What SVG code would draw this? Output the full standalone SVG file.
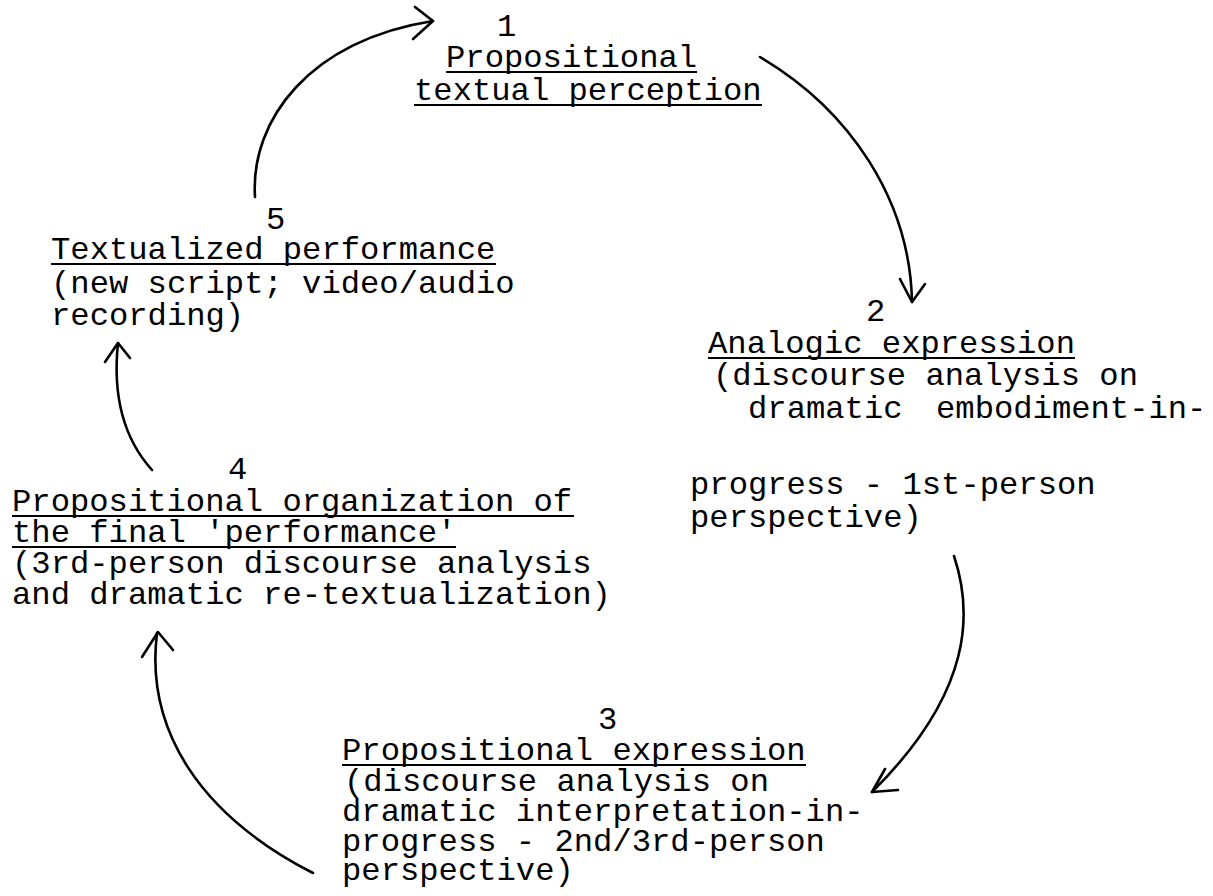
<svg xmlns="http://www.w3.org/2000/svg" width="1213" height="896" viewBox="0 0 1213 896">
  <style>
    text { font-family: "Liberation Mono", "Courier New", monospace; font-size: 32.2px; fill: #000; }
    .ul { stroke: #000; stroke-width: 2.2; }
    .arc { fill: none; stroke: #000; stroke-width: 2.6; stroke-linecap: round; stroke-linejoin: round; }
  </style>
  <rect width="1213" height="896" fill="#fff"/>

  <!-- connectors: hand-drawn arcs with open arrowheads -->
  <g id="connectors">
    <!-- 5 to 1 -->
    <path class="arc" d="M255,197 C250,120 310,40 433,21"/>
    <path class="arc" d="M415,7 L433,21 L413,39"/>
    <!-- 1 to 2 -->
    <path class="arc" d="M760,57 C850,110 910,200 912,302"/>
    <path class="arc" d="M900,279 L912,302 L925,284"/>
    <!-- 2 to 3 -->
    <path class="arc" d="M954,556 C972,610 975,690 872,792"/>
    <path class="arc" d="M885,769 L872,792 L898,790"/>
    <!-- 3 to 4 -->
    <path class="arc" d="M313,873 C200,815 145,730 157,633"/>
    <path class="arc" d="M142,657 L158,632 L173,650"/>
    <!-- 4 to 5 -->
    <path class="arc" d="M152,470 C125,440 112,400 118,343"/>
    <path class="arc" d="M105,362 L118,343 L130,358"/>
  </g>

  <g id="node1">
    <text x="497" y="36">1</text>
    <text x="446" y="67">Propositional</text>
    <line class="ul" x1="446" y1="72" x2="697" y2="72"/>
    <text x="414" y="100">textual perception</text>
    <line class="ul" x1="414" y1="105" x2="762" y2="105"/>
  </g>

  <g id="node2">
    <text x="866" y="321">2</text>
    <text x="708" y="353">Analogic expression</text>
    <line class="ul" x1="708" y1="358" x2="1075" y2="358"/>
    <text x="713" y="385">(discourse analysis on</text>
    <text y="418"><tspan x="748">dramatic</tspan><tspan x="936">embodiment-in-</tspan></text>
    <text x="690" y="494">progress - 1st-person</text>
    <text x="690" y="527">perspective)</text>
  </g>

  <g id="node3">
    <text x="598" y="729">3</text>
    <text x="342" y="760">Propositional expression</text>
    <line class="ul" x1="342" y1="765" x2="806" y2="765"/>
    <text x="344" y="791">(discourse analysis on</text>
    <text x="342" y="821">dramatic interpretation-in-</text>
    <text x="342" y="851">progress - 2nd/3rd-person</text>
    <text x="342" y="880">perspective)</text>
  </g>

  <g id="node4">
    <text x="228" y="479">4</text>
    <text x="12" y="511">Propositional organization of</text>
    <line class="ul" x1="12" y1="516" x2="574" y2="516"/>
    <text x="12" y="542">the final 'performance'</text>
    <line class="ul" x1="12" y1="547" x2="456" y2="547"/>
    <text x="12" y="573">(3rd-person discourse analysis</text>
    <text x="12" y="604">and dramatic re-textualization)</text>
  </g>

  <g id="node5">
    <text x="266" y="229">5</text>
    <text x="51" y="259">Textualized performance</text>
    <line class="ul" x1="51" y1="264" x2="496" y2="264"/>
    <text x="51" y="293">(new script; video/audio</text>
    <text x="51" y="325">recording)</text>
  </g>
</svg>
